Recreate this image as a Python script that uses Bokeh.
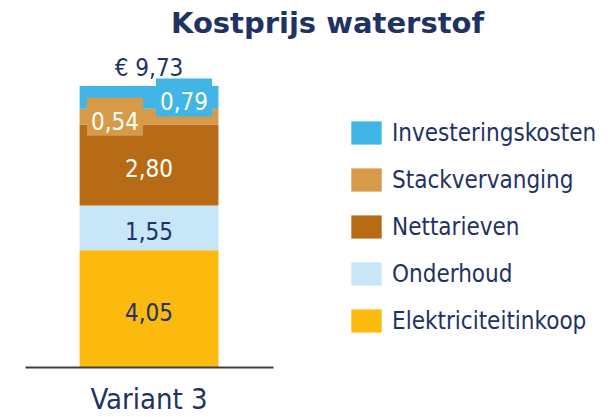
import numpy as np
from bokeh.plotting import figure
from bokeh.models import (ColumnDataSource, Range1d, LinearAxis, FixedTicker,
                          Legend, LegendItem, LabelSet, Label)
from bokeh.core.properties import value
from bokeh.embed import file_html
from bokeh.resources import INLINE

# ---- data ----
categories = ["Variant 3"]
series = ["Elektriciteitinkoop", "Onderhoud", "Nettarieven", "Stackvervanging", "Investeringskosten"]
values = [4.05, 1.55, 2.80, 0.54, 0.79]
value_labels = ["4,05", "1,55", "2,80", "0,54", "0,79"]
total_label = "€ 9,73"
title_text = "Kostprijs waterstof"

# ---- style ----
colors = ["#FBBA0D", "#C7E7F8", "#B86B15", "#D69A48", "#41B6E6"]
label_colors = ["#1F3264", "#1F3264", "#FFFFFF", "#FFFFFF", "#FFFFFF"]
NAVY = "#1F3264"
FONT = "DejaVu Sans Condensed, DejaVu Sans"
TFONT = "DejaVu Sans"

W, H = 610, 417
p = figure(width=W, height=H,
           x_range=Range1d(-0.599, 1.861),
           y_range=Range1d(-1.728, 12.686),
           output_backend="svg", toolbar_location=None,
           min_border=0, x_axis_location=None, y_axis_location=None)
p.xgrid.grid_line_color = None
p.ygrid.grid_line_color = None
p.outline_line_color = None

pos = list(range(len(categories)))
data = {"x": pos}
for s, v in zip(series, values):
    data[s] = [v]
src = ColumnDataSource(data)
renderers = p.vbar_stack(series, x="x", width=0.56, color=colors, line_color=None, source=src)

axis = LinearAxis(fixed_location=0, bounds=(-0.5, 0.5),
                  ticker=FixedTicker(ticks=pos),
                  major_label_overrides={i: c for i, c in zip(pos, categories)},
                  major_tick_line_color=None, minor_tick_line_color=None,
                  axis_line_color="#404040", axis_line_width=2,
                  major_label_text_font=FONT, major_label_text_font_size="29px",
                  major_label_text_color=NAVY, major_label_standoff=8)
p.add_layout(axis, "below")

vals = np.array(values)
tops = np.cumsum(vals)
mids = tops - vals / 2

# plain labels (first three segments)
plain = ColumnDataSource(dict(x=[pos[0]] * 3, y=list(mids[:3]),
                              text=value_labels[:3], color=label_colors[:3]))
p.add_layout(LabelSet(x="x", y="y", text="text", source=plain,
                      text_color="color", text_font=value(FONT), text_font_size="24px",
                      text_align="center", text_baseline="middle", y_offset=-3))

# boxed labels for small segments
offsets = [-34, 35]
for i, off in zip([3, 4], offsets):
    s = ColumnDataSource(dict(x=[pos[0]], y=[mids[i]], text=[value_labels[i]]))
    p.text(x="x", y="y", text="text", source=s, x_offset=off, y_offset=0,
           text_color=label_colors[i], text_font=value(FONT), text_font_size="24px",
           text_align="center", text_baseline="middle",
           background_fill_color=colors[i],
           padding=dict(left=4, right=4, top=14, bottom=6))

# total label
tsrc = ColumnDataSource(dict(x=[pos[0]], y=[tops[-1]], text=[total_label]))
p.add_layout(LabelSet(x="x", y="y", text="text", source=tsrc, y_offset=18,
                      text_color=NAVY, text_font=value(FONT), text_font_size="24px",
                      text_align="center", text_baseline="middle"))

# title
p.add_layout(Label(x=327, y=394.5, x_units="screen", y_units="screen", text=title_text,
                   text_font=TFONT, text_font_style="bold", text_font_size="29px",
                   text_color=NAVY, text_align="center", text_baseline="middle"))

items = [LegendItem(label=s, renderers=[r]) for s, r in zip(series, renderers)][::-1]
legend = Legend(items=items, location=(347, 82), orientation="vertical",
                glyph_width=38, glyph_height=29, label_standoff=7, spacing=18,
                padding=0, margin=0, border_line_color=None, background_fill_alpha=0,
                label_text_font=FONT, label_text_font_size="24px", label_text_color=NAVY)
p.add_layout(legend)

open("out.html", "w").write(file_html(p, INLINE))
